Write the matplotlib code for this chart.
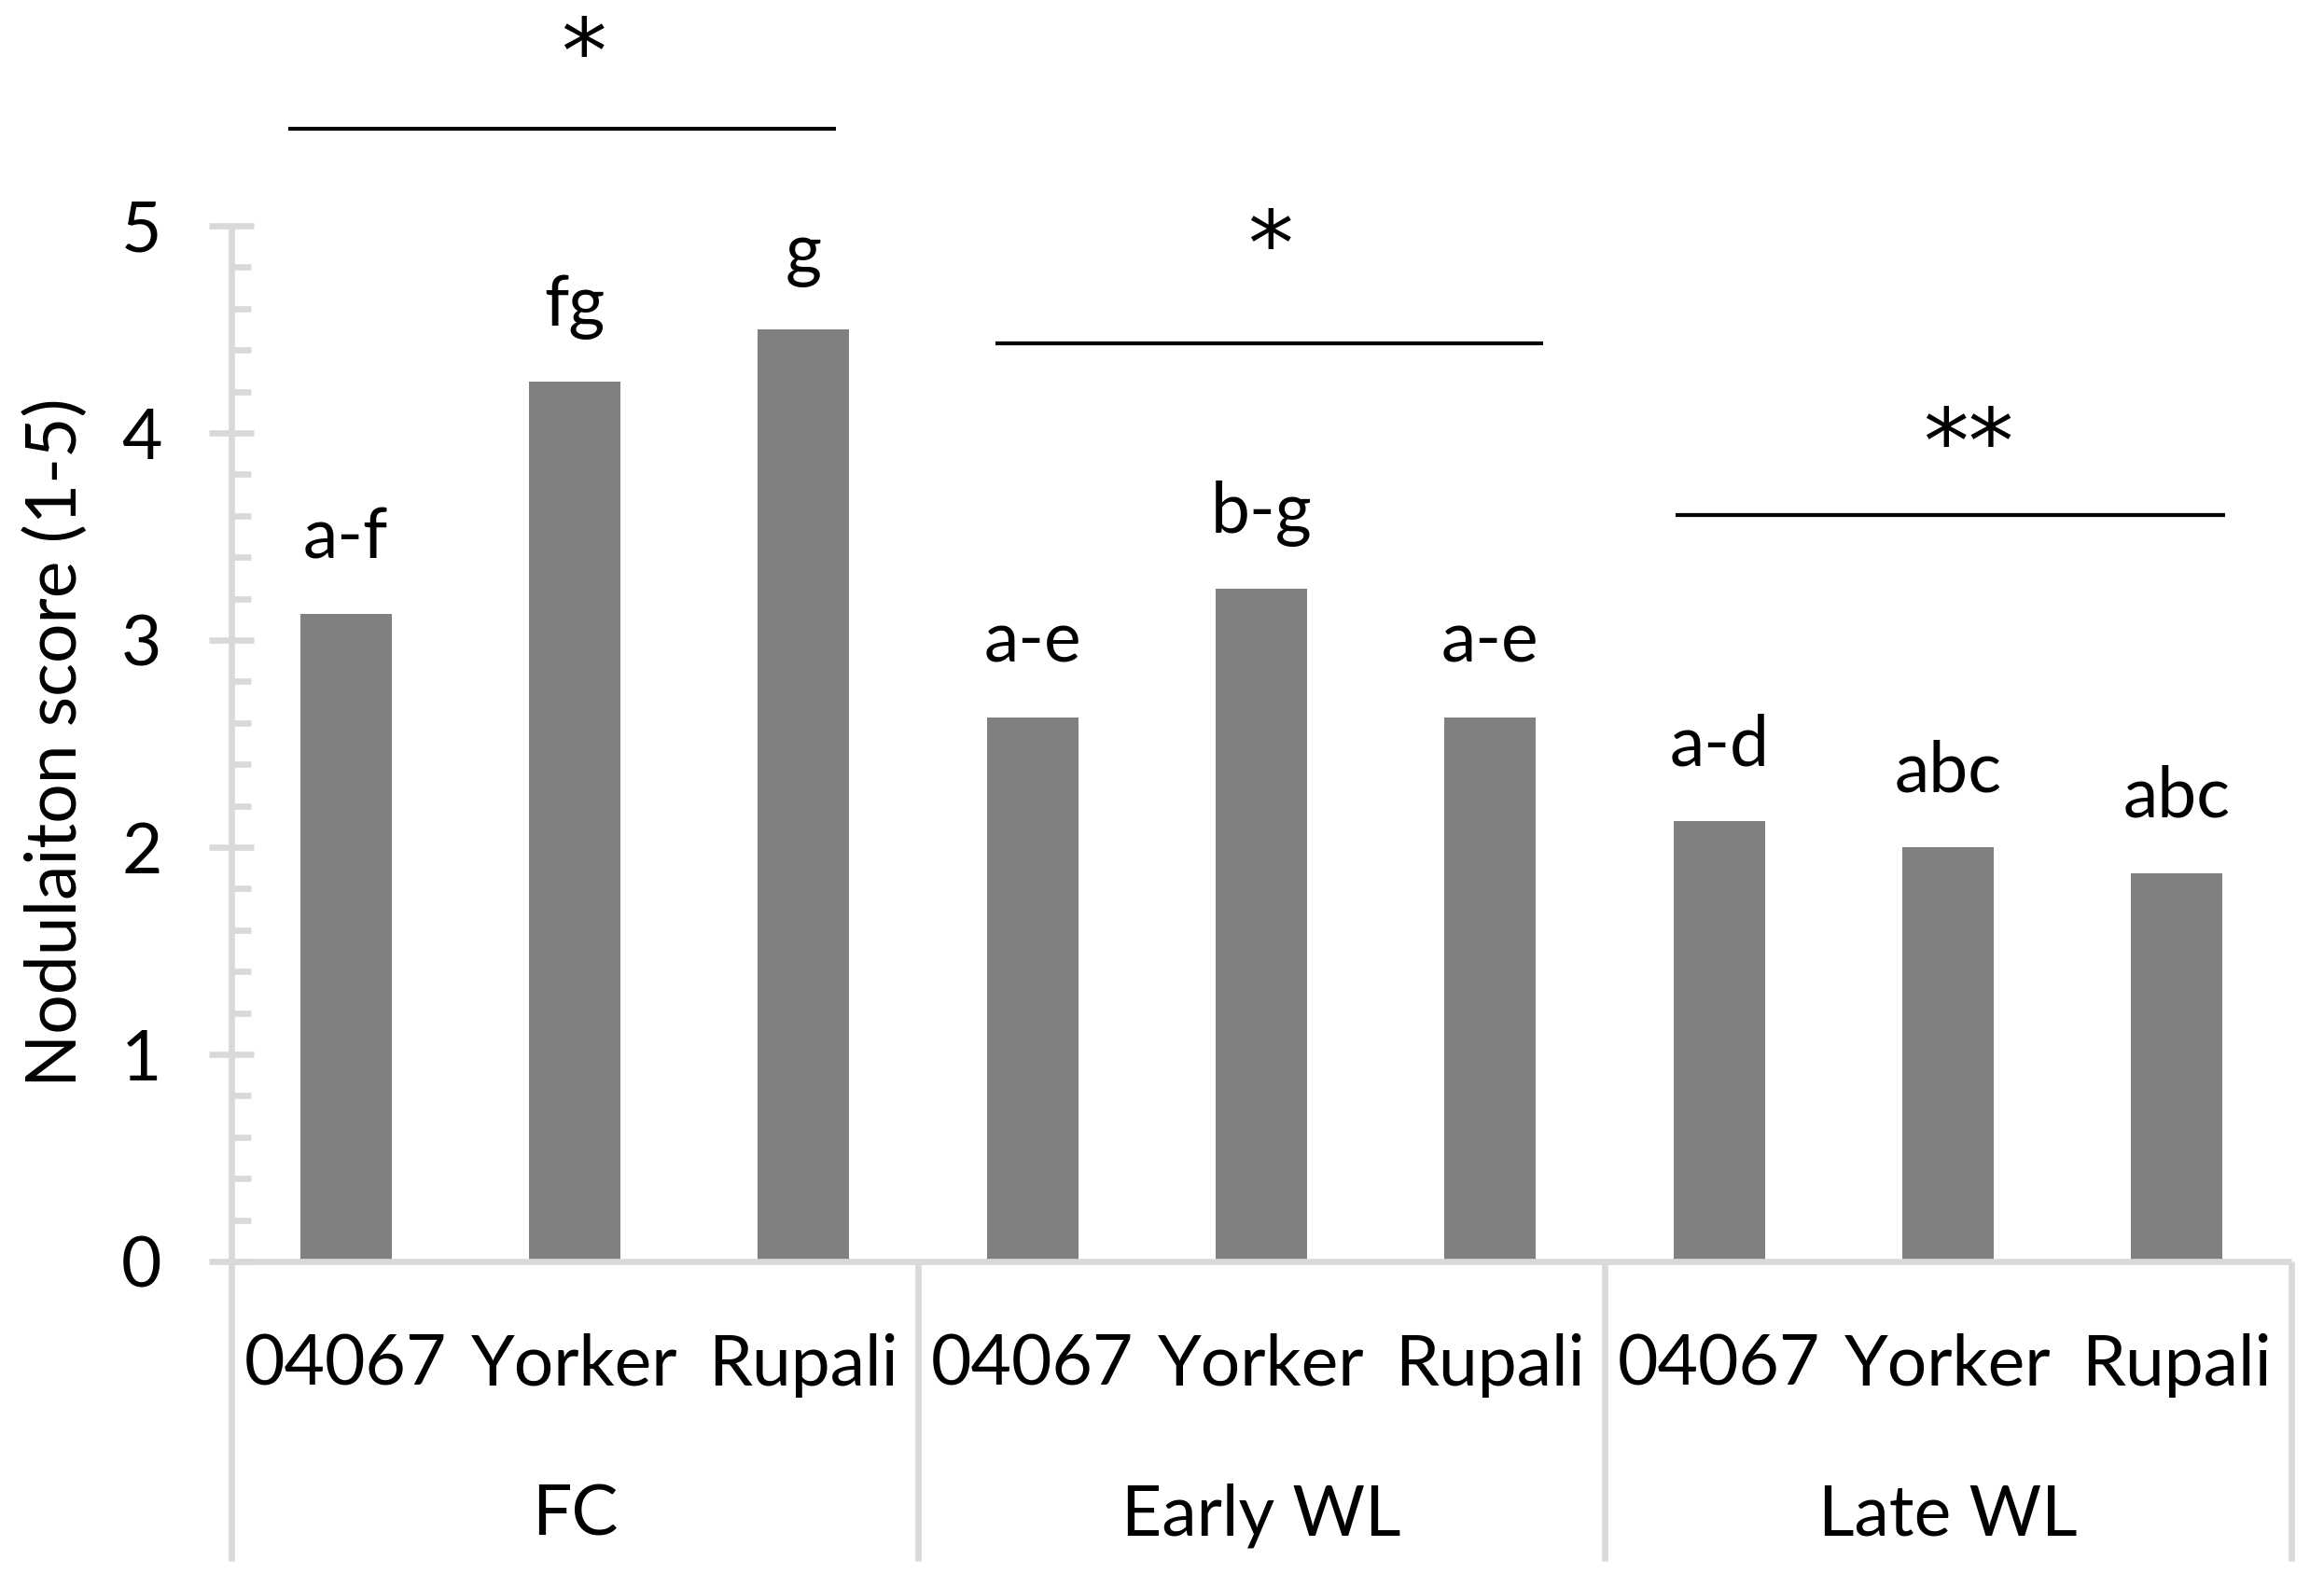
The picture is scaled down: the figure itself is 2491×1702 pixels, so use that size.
import matplotlib
matplotlib.use("Agg")
import matplotlib.pyplot as plt
from matplotlib.ticker import MultipleLocator
import numpy as np

# ---- data ----
groups = ["FC", "Early WL", "Late WL"]
cultivars = ["04067", "Yorker", "Rupali"]
scores = [3.125, 4.25, 4.5, 2.625, 3.25, 2.625, 2.125, 2.0, 1.875]
letters = ["a-f", "fg", "g", "a-e", "b-g", "a-e", "a-d", "abc", "abc"]
sig_marks = ["*", "*", "**"]
sig_line_y = [5.468, 4.432, 3.604]
sig_line_x0 = [-0.25, 2.84, 5.81]
sig_line_x1 = [2.14, 5.23, 8.21]
sig_mark_x = [1.04, 4.04, 7.09]
sig_mark_y = [5.687, 4.762, 3.807]
yticks = [0, 1, 2, 3, 4, 5]

plt.rcParams['font.family'] = ['Lato', 'DejaVu Sans']

AX_COL = "#D9D9D9"
BAR_COL = "#808080"
FS = 54

fig = plt.figure(figsize=(24.91, 17.02), dpi=100)
ax = fig.add_axes([248/2491, 350/1702, (2456-248)/2491, 1110/1702])

n = len(scores)
x = np.arange(n)
ax.bar(x, scores, width=0.4, color=BAR_COL, zorder=2)
ax.set_xlim(-0.5, n - 0.5)
ax.set_ylim(0, 5)

for s in ["top", "right"]:
    ax.spines[s].set_visible(False)
for s in ["left", "bottom"]:
    ax.spines[s].set_color(AX_COL)
    ax.spines[s].set_linewidth(4.8)
    ax.spines[s].set_capstyle('butt')

ax.set_yticks(yticks)
ax.set_yticklabels([str(t) for t in yticks])
ax.yaxis.set_minor_locator(MultipleLocator(0.2))
ax.tick_params(axis='y', which='major', direction='inout', length=34, width=4.8,
               color=AX_COL, labelsize=FS, pad=36.5, labelcolor='black')
ax.tick_params(axis='y', which='minor', direction='in', length=15, width=4.8, color=AX_COL)
ax.set_xticks([])

# letters above bars
for xi, v, lab in zip(x, scores, letters):
    ax.text(xi, v + 0.27, lab, ha='center', va='baseline', fontsize=FS, color='black')

# category labels & group labels
tr = ax.get_xaxis_transform()
ng = len(cultivars)
for gi, g in enumerate(groups):
    for ci, c in enumerate(cultivars):
        ax.text(gi * ng + ci, -0.1198, c, transform=tr, ha='center', va='baseline',
                fontsize=FS, color='black')
    ax.text(gi * ng + (ng - 1) / 2, -0.264, g, transform=tr, ha='center', va='baseline',
            fontsize=FS, color='black')

# group separators
for b in range(len(groups) + 1):
    xb = b * ng - 0.5
    ax.plot([xb, xb], [0, -0.289], transform=tr, color=AX_COL, lw=4.8,
            clip_on=False, solid_capstyle='butt')

# significance lines and marks
for x0, x1, ly, mx, my, m in zip(sig_line_x0, sig_line_x1, sig_line_y, sig_mark_x, sig_mark_y, sig_marks):
    ax.plot([x0, x1], [ly, ly], color='black', lw=3, clip_on=False, solid_capstyle='butt')
    ax.text(mx, my, m, ha='center', va='baseline', fontsize=70, color='black',
            family='DejaVu Sans', clip_on=False)

fig.text(82/2491, 1 - 796/1702, "Nodulaiton score (1-5)", rotation=90, rotation_mode='anchor',
         ha='center', va='baseline', fontsize=FS, color='black')

fig.savefig("out.png", dpi=100, facecolor='white')
